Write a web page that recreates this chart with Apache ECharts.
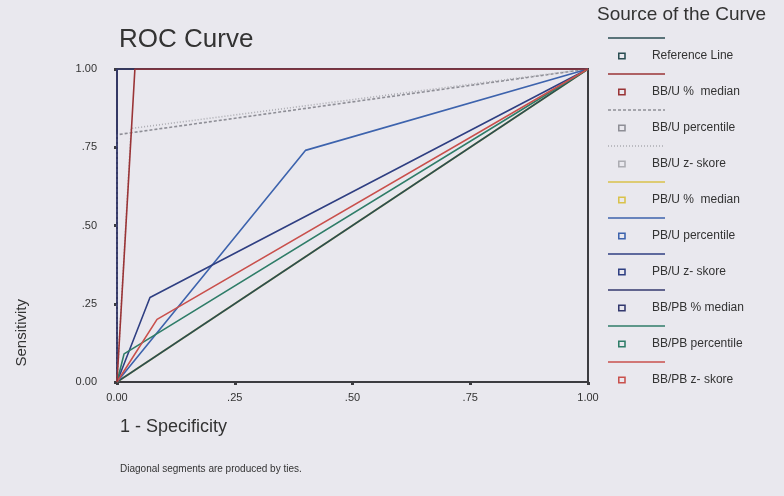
<!DOCTYPE html>
<html><head><meta charset="utf-8">
<script src="https://cdn.jsdelivr.net/npm/echarts@6/dist/echarts.min.js"></script>
<style>html,body{margin:0;padding:0;background:#e9e8ee}#c{width:784px;height:496px}</style>
</head><body><div id="c"></div>
<script>
// ---- data ----
const legendNames = ['Reference Line','BB/U %  median','BB/U percentile','BB/U z- skore','PB/U %  median','PB/U percentile','PB/U z- skore','BB/PB % median','BB/PB percentile','BB/PB z- skore'];
const xTickLabels = ['0.00','.25','.50','.75','1.00'];
const yTickLabels = ['0.00','.25','.50','.75','1.00'];
const referenceLine  = [[0,0],[1,1]];
const bbuMedian      = [[0,0],[0.038,1],[1,1]];
const bbuPercentile  = [[0,0],[0,0.79],[1,1]];
const bbuZskore      = [[0,0],[0.03,0.81],[1,1]];
const pbuMedian      = [[0,0],[1,1]];
const pbuPercentile  = [[0,0],[0.40,0.74],[1,1]];
const pbuZskore      = [[0,0],[0.07,0.27],[1,1]];
const bbpbMedian     = [[0,0],[0,1],[1,1]];
const bbpbPercentile = [[0,0],[0.015,0.09],[1,1]];
const bbpbZskore     = [[0,0],[0.085,0.20],[1,1]];

// ---- styles ----
const styles = {
  'Reference Line':   {data: referenceLine,  color:'#2a4d52', type:'solid'},
  'BB/U %  median':   {data: bbuMedian,      color:'#9a3436', type:'solid'},
  'BB/U percentile':  {data: bbuPercentile,  color:'#8e8e96', type:[3,2]},
  'BB/U z- skore':    {data: bbuZskore,      color:'#acacb2', type:[1,2]},
  'PB/U %  median':   {data: pbuMedian,      color:'#d9c24a', type:'solid'},
  'PB/U percentile':  {data: pbuPercentile,  color:'#3d63ad', type:'solid'},
  'PB/U z- skore':    {data: pbuZskore,      color:'#2f3f82', type:'solid'},
  'BB/PB % median':   {data: bbpbMedian,     color:'#33386e', type:'solid'},
  'BB/PB percentile': {data: bbpbPercentile, color:'#2f7d68', type:'solid'},
  'BB/PB z- skore':   {data: bbpbZskore,     color:'#c9504c', type:'solid'}
};
const drawOrder = ['PB/U %  median','Reference Line','BB/U percentile','BB/U z- skore','BB/PB % median','PB/U percentile','PB/U z- skore','BB/PB percentile','BB/PB z- skore','BB/U %  median'];

const series = drawOrder.map(n => ({
  name: n, type: 'line', data: styles[n].data, symbol: 'none', silent: true,
  lineStyle: {color: styles[n].color, width: 1.6, type: styles[n].type},
  itemStyle: {color: styles[n].color}, animation: false
}));

const FONT = '"Liberation Sans", Arial, sans-serif';
const legendLeft = 613, legendTop = 44, legendStep = 36;
const graphic = [];
legendNames.forEach((n, i) => {
  const y = legendTop + 11 + i * legendStep - 17;
  graphic.push({type:'line', shape:{x1:608, y1:y, x2:665, y2:y},
    style:{stroke: styles[n].color, lineWidth: 1.5, lineDash: Array.isArray(styles[n].type) ? styles[n].type : null}});
});
graphic.push({type:'text', left: 14, top: 299, rotation: Math.PI/2,
  style:{text:'Sensitivity', fill:'#333', font:'15px ' + FONT}});
graphic.push({type:'text', left: 119, top: 27,
  style:{text:'ROC Curve', fill:'#333', font:'26px ' + FONT}});
graphic.push({type:'text', left: 597, top: 5,
  style:{text:'Source of the Curve', fill:'#333', font:'19px ' + FONT}});
graphic.push({type:'text', left: 120, top: 418,
  style:{text:'1 - Specificity', fill:'#333', font:'18px ' + FONT}});
graphic.push({type:'text', left: 120, top: 464,
  style:{text:'Diagonal segments are produced by ties.', fill:'#333', font:'10px ' + FONT}});

const chart = echarts.init(document.getElementById('c'), null, {renderer:'canvas'});
chart.setOption({
  backgroundColor: '#e9e8ee',
  animation: false,
  grid: {left: 117, right: 196, top: 69, bottom: 114, show: true, borderColor: '#3c3c40', borderWidth: 2, backgroundColor: 'transparent'},
  xAxis: {type:'value', min:0, max:1, interval:0.25,
    axisLine:{show:true, lineStyle:{color:'#3c3c40', width:2}},
    axisTick:{show:true, length:3, lineStyle:{color:'#3c3c40', width:3}},
    splitLine:{show:false},
    axisLabel:{color:'#333', fontSize:11, margin:10, fontFamily: FONT,
      formatter: v => xTickLabels[Math.round(v/0.25)]}},
  yAxis: {type:'value', min:0, max:1, interval:0.25,
    axisLine:{show:true, lineStyle:{color:'#3c3c40', width:2}},
    axisTick:{show:true, length:3, lineStyle:{color:'#3c3c40', width:3}},
    splitLine:{show:false},
    axisLabel:{color:'#333', fontSize:11, margin:20, fontFamily: FONT,
      formatter: v => yTickLabels[Math.round(v/0.25)]}},
  legend: {orient:'vertical', left: legendLeft, top: legendTop, itemGap: 22, itemWidth: 8, itemHeight: 7,
    data: legendNames, selectedMode: false,
    icon: 'path://M0,0H10V9H0Z M2,2V7H8V2Z',
    textStyle:{color:'#333', fontSize:12, lineHeight:14, padding:[0,0,0,21], fontFamily: FONT}},
  graphic: graphic,
  series: series
});
</script>
</body></html>
